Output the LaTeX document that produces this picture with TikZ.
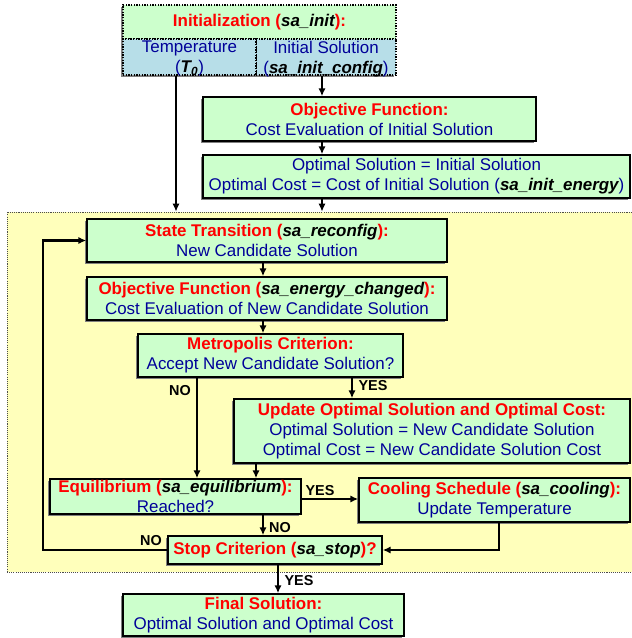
\documentclass[tikz,border=0pt]{standalone}
\usepackage{fontspec}
\setmainfont{Liberation Sans}
\usetikzlibrary{arrows.meta,shadows,calc}
\definecolor{boxgreen}{RGB}{204,255,204}
\definecolor{boxblue}{RGB}{183,222,232}
\definecolor{zoneyellow}{RGB}{255,255,187}
\definecolor{txtblue}{RGB}{0,0,153}
\definecolor{txtred}{RGB}{255,0,0}
\newcommand{\hd}[1]{\textcolor{txtred}{\bfseries #1}}
\newcommand{\fn}[1]{\textcolor{black}{\bfseries\itshape #1}}
\newcommand{\boxfont}{\fontsize{12.7}{15}\selectfont}
\tikzset{
  box/.style={draw=black,line width=1.1pt,fill=boxgreen,text=txtblue,align=center,
    inner sep=0pt,font=\boxfont,
    drop shadow={shadow xshift=-1.8pt,shadow yshift=-1.8pt,fill=black!50,opacity=1}},
  initbox/.style={box,draw=black,dash pattern=on 1pt off 1pt,line width=1.2pt},
  arr/.style={line width=1.9pt,-{Latex[length=6pt,width=5.5pt]}},
  lbl/.style={font=\bfseries\fontsize{10.8}{12}\selectfont,inner sep=0pt}
}
\begin{document}
\begin{tikzpicture}[x=0.75pt,y=-0.75pt]
\useasboundingbox (0,0) rectangle (631,638);
%-------------------------------------------------
\node[draw=black!70,dash pattern=on 0.8pt off 0.8pt,line width=0.6pt,fill=zoneyellow,
  minimum width=638*0.75pt,minimum height=360*0.75pt,inner sep=0pt] (zone) at (326,392) {};
%-------------------------------------------------
\node[initbox,minimum width=273*0.75pt,minimum height=34*0.75pt] (initt) at (259.5,22)
  {\hd{Initialization (\fn{sa\_init}):}};
\node[initbox,fill=boxblue,minimum width=140*0.75pt,minimum height=36*0.75pt,
  text depth=-2pt] (solc) at (326,57)
  {Initial Solution\\(\fn{sa\_init\_config})};
\node[initbox,fill=boxblue,minimum width=133*0.75pt,minimum height=36*0.75pt,
  text depth=-2pt] (tempc) at (189.5,57)
  {Temperature\\(\fn{T\textsubscript{0}})};
\node[box,minimum width=333*0.75pt,minimum height=44*0.75pt] (obj1) at (369.5,119)
  {\hd{Objective Function:}\\Cost Evaluation of Initial Solution};
\node[box,minimum width=427*0.75pt,minimum height=43*0.75pt] (opt) at (416.5,176.5)
  {Optimal Solution = Initial Solution\\Optimal Cost = Cost of Initial Solution (\fn{sa\_init\_energy})};
%-------------------------------------------------
\node[box,minimum width=360*0.75pt,minimum height=43*0.75pt] (st) at (267,240.5)
  {\hd{State Transition (\fn{sa\_reconfig}):}\\New Candidate Solution};
\node[box,minimum width=360*0.75pt,minimum height=43*0.75pt] (obj2) at (267,298.5)
  {\hd{Objective Function (\fn{sa\_energy\_changed}):}\\Cost Evaluation of New Candidate Solution};
\node[box,minimum width=265*0.75pt,minimum height=43*0.75pt] (metro) at (270.5,355.5)
  {\hd{Metropolis Criterion:}\\Accept New Candidate Solution?};
\node[box,minimum width=396*0.75pt,minimum height=64*0.75pt] (upd) at (432,431)
  {\hd{Update Optimal Solution and Optimal Cost:}\\Optimal Solution = New Candidate Solution\\Optimal Cost = New Candidate Solution Cost};
\node[box,minimum width=251*0.75pt,minimum height=35*0.75pt] (equ) at (175.5,496.5)
  {\hd{Equilibrium (\fn{sa\_equilibrium}):}\\Reached?};
\node[box,minimum width=271*0.75pt,minimum height=44*0.75pt] (cool) at (494.5,500)
  {\hd{Cooling Schedule (\fn{sa\_cooling}):}\\Update Temperature};
\node[box,minimum width=214*0.75pt,minimum height=28*0.75pt] (stop) at (275,550)
  {\hd{Stop Criterion (\fn{sa\_stop})?}};
\node[box,minimum width=281*0.75pt,minimum height=42*0.75pt] (final) at (263.5,615)
  {\hd{Final Solution:}\\Optimal Solution and Optimal Cost};
%-------------------------------------------------
\coordinate (tdrop) at ($(tempc.south)+(-13.5,0)$);
\coordinate (sdrop) at ($(solc.south)+(-4,0)$);
\coordinate (spine) at (263,0);
\coordinate (nocol) at (197,0);
\coordinate (yescol) at (352,0);
\coordinate (updcol) at (256,0);
\coordinate (yesrow) at (0,499);
\coordinate (loopx) at (43,0);
\coordinate (coolx) at (499,0);
\coordinate (finx) at (278,0);
%-------------------------------------------------
\draw[arr] (tdrop) -- (tdrop |- zone.north);
\draw[arr] (sdrop) -- (sdrop |- obj1.north);
\draw[arr] (sdrop |- obj1.south) -- (sdrop |- opt.north);
\draw[arr] (sdrop |- opt.south) -- (sdrop |- zone.north);
\draw[arr] (spine |- st.south) -- (spine |- obj2.north);
\draw[arr] (spine |- obj2.south) -- (spine |- metro.north);
\draw[arr] (nocol |- metro.south) -- (nocol |- equ.north);
\draw[arr] (yescol |- metro.south) -- (yescol |- upd.north);
\draw[arr] (updcol |- upd.south) -- (updcol |- equ.north);
\draw[arr] (yesrow -| equ.east) -- (yesrow -| cool.west);
\draw[arr] (spine |- equ.south) -- (spine |- stop.north);
\draw[arr] (stop.west) -| (loopx |- st.west) -- (st.west);
\draw[arr] (coolx |- cool.south) |- (stop.east);
\draw[arr] (finx |- stop.south) -- (finx |- final.north);
%-------------------------------------------------
\node[lbl] (nometro) at (180,391) {NO};
\node[lbl] (yesmetro) at (373,386) {YES};
\node[lbl] (yesequ) at (320,491) {YES};
\node[lbl] (noequ) at (280,528) {NO};
\node[lbl] (nostop) at (151,541) {NO};
\node[lbl] (yesstop) at (299,581) {YES};
\end{tikzpicture}
\end{document}
